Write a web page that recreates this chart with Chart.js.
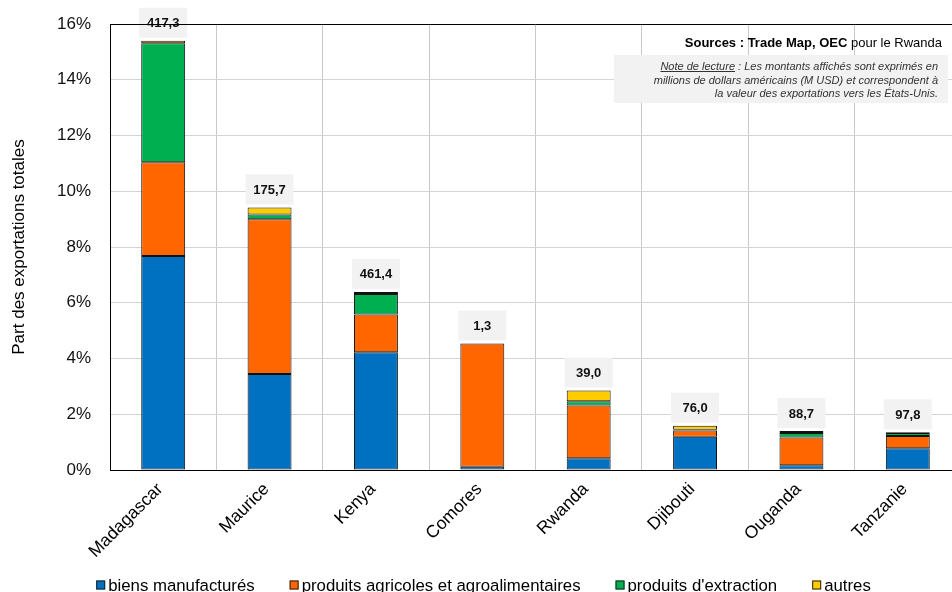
<!DOCTYPE html>
<html><head><meta charset="utf-8">
<script src="https://cdn.jsdelivr.net/npm/chart.js@4/dist/chart.umd.min.js"></script>
<style>
html,body{margin:0;padding:0;background:#fff;overflow:hidden;}
#wrap{width:961px;height:592px;}
</style></head>
<body><div id="wrap"><canvas id="c" width="961" height="592"></canvas></div>
<script>
const categories = ['Madagascar','Maurice','Kenya','Comores','Rwanda','Djibouti','Ouganda','Tanzanie'];
const manufactures = [7.68, 3.44, 4.22, 0.12, 0.42, 1.19, 0.17, 0.78];
const agricoles = [3.36, 5.56, 1.36, 4.42, 1.89, 0.23, 1.00, 0.44];
const extraction = [4.27, 0.17, 0.73, 0.00, 0.16, 0.02, 0.16, 0.11];
const autres = [0.09, 0.25, 0.08, 0.00, 0.38, 0.15, 0.07, 0.02];
const montants = ['417,3','175,7','461,4','1,3','39,0','76,0','88,7','97,8'];
const seriesNames = ['biens manufacturés','produits agricoles et agroalimentaires',"produits d'extraction",'autres'];
const yTicks = [0,2,4,6,8,10,12,14,16];

const colors = ['#0070C0','#FF6600','#00B050','#FFCC00'];
const FONT = '"Liberation Sans", Arial, sans-serif';

const labelPlugin = {
  id: 'labels',
  afterDatasetsDraw(chart) {
    const ctx = chart.ctx, xs = chart.scales.x, ys = chart.scales.y;
    ctx.save();
    categories.forEach((c, i) => {
      let total = 0;
      chart.data.datasets.forEach(d => total += d.data[i]);
      const x = xs.getPixelForValue(i);
      const y = ys.getPixelForValue(total);
      const w = 48, h = 30;
      ctx.fillStyle = '#F2F2F2';
      ctx.fillRect(x - w/2, y - 3 - h, w, h);
      ctx.fillStyle = '#111';
      ctx.font = 'bold 13px ' + FONT;
      ctx.textAlign = 'center';
      ctx.textBaseline = 'middle';
      ctx.fillText(montants[i], x, y - 3 - h/2 + 1);
    });
    ctx.restore();
  },
  afterDraw(chart) {
    const ctx = chart.ctx, a = chart.chartArea;
    ctx.save();
    ctx.strokeStyle = '#000'; ctx.lineWidth = 1;
    ctx.beginPath(); ctx.moveTo(a.left, a.top + 0.5); ctx.lineTo(a.right, a.top + 0.5); ctx.stroke();
    // Sources
    ctx.textBaseline = 'alphabetic';
    ctx.textAlign = 'left';
    const right = 942;
    ctx.font = '13px ' + FONT;
    const t2 = ' pour le Rwanda';
    const w2 = ctx.measureText(t2).width;
    ctx.font = 'bold 13px ' + FONT;
    const t1 = 'Sources : Trade Map, OEC';
    const w1 = ctx.measureText(t1).width;
    ctx.fillStyle = '#000';
    ctx.fillText(t1, right - w2 - w1, 47);
    ctx.font = '13px ' + FONT;
    ctx.fillText(t2, right - w2, 47);
    // note box
    ctx.fillStyle = '#F2F2F2';
    ctx.fillRect(614, 55, 334, 48);
    ctx.fillStyle = '#333';
    ctx.font = 'italic 11px ' + FONT;
    const nr = 938;
    const l1b = ' : Les montants affichés sont exprimés en';
    const l1a = 'Note de lecture';
    const wb = ctx.measureText(l1b).width, wa = ctx.measureText(l1a).width;
    ctx.fillText(l1a, nr - wb - wa, 70);
    ctx.fillText(l1b, nr - wb, 70);
    ctx.strokeStyle = '#333';
    ctx.beginPath(); ctx.moveTo(nr - wb - wa, 71.5); ctx.lineTo(nr - wb, 71.5); ctx.stroke();
    ctx.textAlign = 'right';
    ctx.fillText('millions de dollars américains (M USD) et correspondent à', nr, 84);
    ctx.fillText('la valeur des exportations vers les États-Unis.', nr, 97);
    // legend
    ctx.font = '16.8px ' + FONT;
    ctx.textAlign = 'left';
    ctx.textBaseline = 'middle';
    const gap = 35, box = 9, tgap = 3;
    const widths = seriesNames.map(s => box + tgap + ctx.measureText(s).width);
    const total = widths.reduce((p, q) => p + q, 0) + gap * (widths.length - 1);
    let x = 483.5 - total / 2;
    const ly = 585;
    seriesNames.forEach((s, i) => {
      ctx.fillStyle = colors[i];
      ctx.fillRect(x, ly - 4.5, box, box);
      ctx.strokeStyle = '#222';
      ctx.strokeRect(x + 0.5, ly - 4, box - 1, box - 1);
      ctx.fillStyle = '#000';
      ctx.fillText(s, x + box + tgap, ly + 1);
      x += widths[i] + gap;
    });
    ctx.restore();
  }
};

const datasets = [manufactures, agricoles, extraction, autres].map((d, i) => ({
  label: seriesNames[i],
  data: d,
  backgroundColor: colors[i],
  borderColor: '#111',
  borderWidth: 1,
  borderSkipped: false,
  categoryPercentage: 1,
  barPercentage: 0.413
}));

new Chart(document.getElementById('c'), {
  type: 'bar',
  data: { labels: categories, datasets },
  options: {
    responsive: false,
    animation: false,
    layout: { padding: { top: 24, right: 0, bottom: 0, left: 0 } },
    plugins: { legend: { display: false }, tooltip: { enabled: false } },
    scales: {
      x: {
        stacked: true,
        grid: { color: '#C8C8C8', drawTicks: false, offset: true },
        border: { color: '#000', width: 1 },
        ticks: { color: '#000', font: { family: FONT, size: 17.5 }, minRotation: 45, maxRotation: 45, padding: 9, labelOffset: -3 },
        afterFit(s) { s.height = 122; s.paddingLeft = 0; s.paddingRight = 0; }
      },
      y: {
        stacked: true,
        min: 0, max: 16,
        afterBuildTicks(s) { s.ticks = yTicks.map(v => ({ value: v })); },
        grid: { color: '#D4D4D4', drawTicks: false },
        border: { color: '#000', width: 1 },
        ticks: { color: '#111', font: { family: FONT, size: 17 }, padding: 19, callback: v => v + '%' },
        title: { display: true, text: 'Part des exportations totales', color: '#000', font: { family: FONT, size: 17 }, padding: { top: 9, bottom: 0 } },
        afterFit(s) { s.width = 110; s.paddingTop = 0; s.paddingBottom = 0; }
      }
    }
  },
  plugins: [labelPlugin]
});
</script></body></html>
